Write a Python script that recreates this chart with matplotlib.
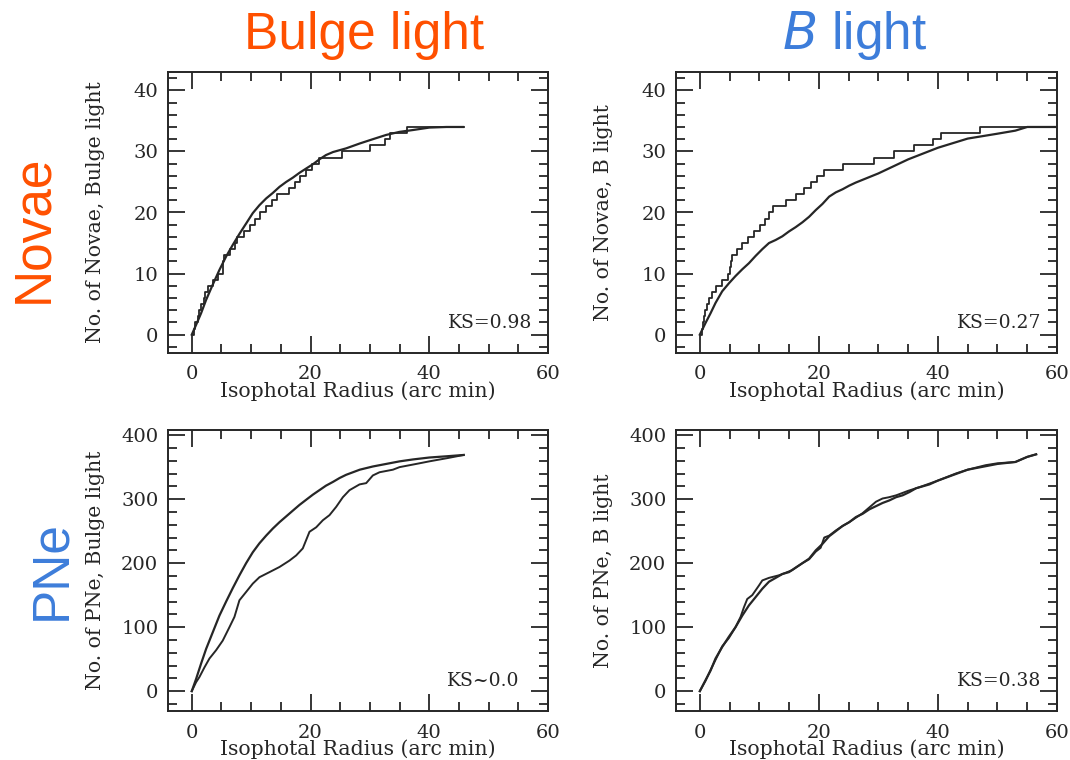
import numpy as np
import matplotlib.pyplot as plt
from matplotlib.ticker import MultipleLocator

# Novae, Bulge light: Radien, bei denen die Anzahl um 1 steigt, und erwartete Kurve
nb_radii = [0.3, 0.6, 1.0, 1.3, 1.6, 2.0, 2.3, 2.7, 3.5, 4.5, 5.2, 5.3, 5.4,
            6.5, 7.3, 7.7, 8.8, 9.8, 10.6, 11.5, 12.5, 13.5, 14.4, 16.3, 17.4,
            18.3, 19.3, 20.2, 21.4, 25.3, 30.1, 32.5, 33.4, 36.3]
nb_curve_x = [0, 0.73, 1.57, 2.42, 3.54, 4.66, 5.79, 6.91, 8.03, 9.16, 10.28,
              11.4, 12.53, 13.65, 14.78, 15.9, 17.02, 18.15, 19.27, 20.4, 21.5,
              22.6, 23.8, 26.0, 28.3, 30.5, 32.75, 35.0, 37.25, 40.0, 42.9, 45.7]
nb_curve_y = [0, 1.6, 3.5, 5.7, 8.2, 10.6, 12.8, 14.7, 16.5, 18.2, 19.9,
              21.2, 22.3, 23.2, 24.2, 25.0, 25.7, 26.5, 27.2, 27.9, 28.7,
              29.4, 29.9, 30.5, 31.3, 32.0, 32.7, 33.2, 33.5, 33.9, 34.0, 34.0]

# Novae, B light
nB_radii = [0.3, 0.5, 0.7, 0.9, 1.2, 1.5, 2.1, 2.64, 3.76, 4.77, 5.0, 5.17,
            5.45, 6.29, 7.13, 8.14, 9.1, 10.05, 10.95, 11.62, 12.3, 14.43,
            16.23, 17.52, 18.64, 19.76, 20.9, 23.97, 29.3, 32.7, 36.0, 39.1,
            40.5, 47.0]
nB_curve_x = [0, 0.95, 1.8, 2.64, 3.76, 4.88, 6.0, 7.13, 8.25, 9.38, 10.5,
              11.62, 12.74, 13.86, 14.98, 16.1, 17.24, 18.36, 19.48, 20.6,
              21.73, 22.85, 23.97, 25.1, 26.2, 30, 35, 40, 45, 50, 53, 55, 60]
nB_curve_y = [0, 1.9, 3.5, 5.2, 7.1, 8.4, 9.6, 10.7, 11.7, 12.9, 14.0,
              15.0, 15.5, 16.1, 16.9, 17.6, 18.4, 19.3, 20.4, 21.4,
              22.6, 23.3, 23.8, 24.4, 24.9, 26.4, 28.7, 30.6, 32.1, 32.9, 33.4, 34, 34]

# PNe, Bulge light
pb_curve_x = [0, 0.73, 1.57, 2.42, 3.54, 4.66, 5.79, 6.91, 8.03, 9.16, 10.28,
              11.4, 12.53, 13.65, 14.78, 15.9, 17.02, 18.15, 19.27, 20.4, 21.5,
              22.6, 23.8, 24.9, 26.0, 28.3, 30.5, 32.75, 35.0, 37.25, 40.0, 43.0, 45.8]
pb_curve_y = [0, 19, 43, 66, 92, 118, 140, 161, 181, 200, 217,
              231, 243, 254, 264, 273, 282, 291, 299, 307, 314,
              321, 327, 333, 338, 346, 351, 355, 359, 362, 365, 367, 369]
pb_step_x = [0, 0.73, 1.29, 2.13, 2.98, 4.1, 5.22, 6.35, 7.19, 8.03, 9.16,
             10.28, 11.4, 13.1, 14.78, 16.46, 17.58, 18.7, 19.83, 20.96, 22.08,
             23.2, 24.33, 25.45, 26.57, 28.26, 29.38, 30.5, 31.63, 33.88, 35.0,
             37.25, 38.37, 40.0, 43.0, 45.8]
pb_step_y = [0, 14, 22, 37, 51, 64, 79, 100, 116, 142, 155,
             168, 178, 186, 194, 204, 212, 223, 249, 256, 267,
             275, 288, 303, 314, 323, 325, 337, 342, 346, 350,
             354, 356, 359, 364, 369]

# PNe, B light
pB_curve_x = [0, 0.95, 1.8, 2.64, 3.76, 4.88, 6.0, 7.13, 8.25, 9.38, 10.5,
              11.62, 12.75, 13.87, 14.99, 16.1, 17.24, 18.36, 19.48, 20.6,
              21.73, 22.85, 23.97, 25.1, 26.22, 27.34, 28.47, 29.59, 30.7,
              31.84, 32.96, 34.08, 35.2, 36.33, 37.45, 38.57, 40, 45, 50, 53, 55, 56.5]
pB_curve_y = [0, 17, 32, 51, 69, 85, 100, 118, 134, 147, 160,
              171, 177, 183, 186, 193, 200, 207, 220, 230,
              242, 250, 258, 264, 272, 277, 284, 289, 294,
              298, 303, 306, 311, 317, 320, 323, 329, 346, 355, 358, 366, 370]
pB_step_x = [0, 0.95, 1.8, 2.64, 3.76, 4.88, 6.0, 6.85, 7.41, 7.97, 8.81,
             9.93, 10.5, 11.62, 13.3, 14.43, 15.5, 17.24, 18.36, 19.48, 20.3,
             20.9, 21.73, 22.85, 23.97, 25.1, 26.22, 27.34, 28.47, 29.6, 30.7,
             31.8, 33.0, 35.0, 37.0, 40, 43, 45, 48, 50, 53, 55, 56.5]
pB_step_y = [0, 16, 33, 49, 70, 83, 100, 116, 131, 144, 150,
             165, 173, 177, 181, 185, 189, 200, 206, 218, 224,
             240, 243, 251, 258, 264, 271, 278, 287, 296, 301,
             303, 306, 313, 319, 329, 340, 346, 353, 356, 358, 366, 370]

ks_texts = ['KS=0.98', 'KS=0.27', 'KS~0.0', 'KS=0.38']
ylabels = ['No. of Novae, Bulge light', 'No. of Novae, B light',
           'No. of PNe, Bulge light', 'No. of PNe, B light']

orange = '#FF5000'
blue = '#3D7DDA'
ink = '#262626'

fig = plt.figure(figsize=(10.7, 7.6), dpi=100)

W, H = 1070, 760
# Achsenrahmen in Pixeln (links, oben, rechts, unten)
boxes = [(168, 72, 548, 353), (676, 72, 1057, 353),
         (168, 430, 548, 711), (676, 430, 1057, 711)]
ks_x = [0.96, 0.96, 0.925, 0.96]

axes = []
for (l, t, r, b) in boxes:
    axes.append(fig.add_axes([l / W, (H - b) / H, (r - l) / W, (b - t) / H]))

font = 'DejaVu Serif'


def novae_step(ax, radii, x_end):
    xs = [0] + list(radii) + [x_end]
    ys = list(range(0, len(radii) + 1)) + [len(radii)]
    ax.step(xs, ys, where='post', color=ink, lw=1.3)


ax = axes[0]
novae_step(ax, nb_radii, 45.8)
ax.plot(nb_curve_x, nb_curve_y, color=ink, lw=1.6)

ax = axes[1]
novae_step(ax, nB_radii, 60)
ax.plot(nB_curve_x, nB_curve_y, color=ink, lw=1.6)

ax = axes[2]
ax.plot(pb_step_x, pb_step_y, color=ink, lw=1.4)
ax.plot(pb_curve_x, pb_curve_y, color=ink, lw=1.6)

ax = axes[3]
ax.plot(pB_step_x, pB_step_y, color=ink, lw=1.4)
ax.plot(pB_curve_x, pB_curve_y, color=ink, lw=1.6)

for i, ax in enumerate(axes):
    ax.set_xlim(-4, 60)
    if i < 2:
        ax.set_ylim(-3, 43)
        ax.yaxis.set_major_locator(MultipleLocator(10))
        ax.yaxis.set_minor_locator(MultipleLocator(2))
    else:
        ax.set_ylim(-31, 408)
        ax.yaxis.set_major_locator(MultipleLocator(100))
        ax.yaxis.set_minor_locator(MultipleLocator(20))
    ax.xaxis.set_major_locator(MultipleLocator(20))
    ax.xaxis.set_minor_locator(MultipleLocator(5))
    ax.tick_params(which='both', direction='in', top=True, right=True,
                   colors=ink, labelsize=14, width=1.3)
    ax.tick_params(which='major', length=12)
    ax.tick_params(which='minor', length=6.5)
    ax.tick_params(axis='x', pad=9)
    ax.tick_params(axis='y', pad=7)
    for lab in ax.get_xticklabels() + ax.get_yticklabels():
        lab.set_fontfamily(font)
    for sp in ax.spines.values():
        sp.set_linewidth(1.4)
        sp.set_color(ink)
    ax.set_xlabel('Isophotal Radius (arc min)', family=font, fontsize=14.7,
                  color=ink)
    ax.xaxis.set_label_coords(0.5, -0.137)
    ax.xaxis.label.set_va('center')
    ax.set_ylabel(ylabels[i], family=font, fontsize=14.7, color=ink)
    ax.yaxis.set_label_coords(-0.19, 0.5)
    ax.yaxis.label.set_va('center')
    ax.text(ks_x[i], 0.105, ks_texts[i], transform=ax.transAxes, ha='right',
            va='center', family=font, fontsize=13.5, color=ink)

# Spalten- und Zeilenueberschriften
fig.text(364 / W, 1 - 49 / H, 'Bulge light', color=orange, fontsize=37,
         family='Liberation Sans', ha='center', va='baseline')
fig.text(855 / W, 1 - 49 / H, r'$\mathit{B}$ light', color=blue, fontsize=37,
         family='Liberation Sans', ha='center', va='baseline')
fig.text(47 / W, 1 - 229 / H, 'Novae', color=orange, fontsize=37,
         family='Liberation Sans', rotation=90, ha='center', va='baseline',
         rotation_mode='anchor')
fig.text(65 / W, 1 - 570 / H, 'PNe', color=blue, fontsize=37,
         family='Liberation Sans', rotation=90, ha='center', va='baseline',
         rotation_mode='anchor')

fig.savefig('out.png', dpi=100)
